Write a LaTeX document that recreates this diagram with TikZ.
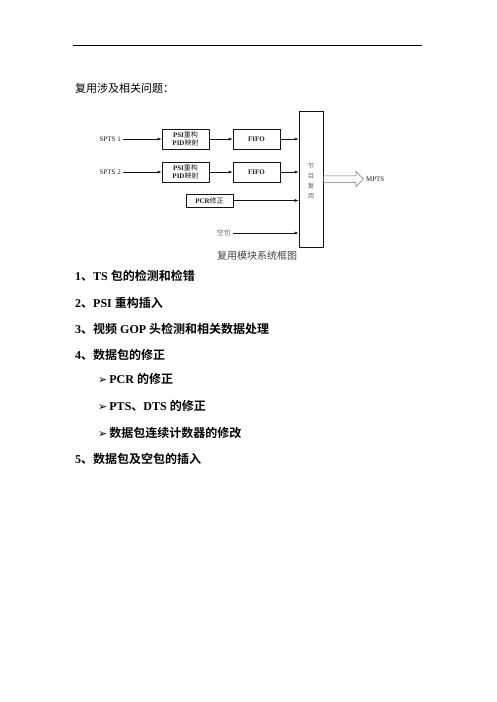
\documentclass[tikz,border=0pt]{standalone}
\usepackage{fontspec}
\setmainfont{Liberation Serif}
\newfontfamily\cjk{Noto Sans CJK SC}[BoldFont={Noto Sans CJK SC Bold}]
\newfontfamily\dingfont{DejaVu Sans}
\newcommand{\zh}[1]{{\cjk #1}}
\usetikzlibrary{positioning,arrows.meta,shapes.arrows}
\definecolor{colorline} {RGB}{20 ,20 ,20 }
\definecolor{colortext} {RGB}{29 ,29 ,27 }
\definecolor{colorgray} {RGB}{110,110,110}

\begin{document}
\begin{tikzpicture}[x=1pt,y=-1pt,
    base/.style={draw=colorline,line width=0.6pt,text=colortext,font={\fontsize{7}{8.5}\selectfont},inner sep=0pt,align=center,rectangle,minimum width=47pt,minimum height=20pt},
    txt/.style={text=colortext,font={\fontsize{7}{8.5}\selectfont},inner sep=2pt},
    link/.style={-{Latex[length=4pt,width=3pt]},line width=0.6pt,draw=colorline},
    fatarrow/.style={single arrow,draw=colorgray,line width=0.5pt,inner sep=3pt,single arrow head extend=4.5pt,minimum height=40pt},
    item/.style={anchor=west,text=black,font={\fontsize{12}{14}\selectfont\bfseries},inner sep=0pt},
]
    \useasboundingbox (0,0) rectangle (496,702);

    \draw[line width=0.8pt] (73,45) -- (422,45);
    \node[anchor=west,inner sep=0pt,font={\fontsize{11}{13}\selectfont}] at (75,88) (title) {\zh{复用涉及相关问题：}};

    \node[base,minimum width=24pt,minimum height=136pt] at (311,179) (mux) {};
    \node[txt,text=colorgray,align=center,font={\fontsize{6.5}{10}\selectfont}] at (311,181) (muxName) {\zh{节}\\\zh{目}\\\zh{复}\\\zh{用}};

    \node[txt,anchor=east] at (123,139) (sptsA) {SPTS 1};
    \node[base] at (185.5,139) (psiA) {\textbf{PSI}\zh{重构}\\\textbf{PID}\zh{映射}};
    \draw[link](sptsA) -- (psiA);
    \node[base] at (256.5,139) (fifoA) {\textbf{FIFO}};
    \draw[link](psiA) -- (fifoA);
    \draw[link](fifoA.east) -- (fifoA.east -| mux.west);

    \node[txt,anchor=east] at (123,172) (sptsB) {SPTS 2};
    \node[base] at (185.5,172) (psiB) {\textbf{PSI}\zh{重构}\\\textbf{PID}\zh{映射}};
    \draw[link](sptsB) -- (psiB);
    \node[base] at (256.5,172) (fifoB) {\textbf{FIFO}};
    \draw[link](psiB) -- (fifoB);
    \draw[link](fifoB.east) -- (fifoB.east -| mux.west);

    \node[base,minimum height=13pt] at (209.5,200.5) (pcr) {\textbf{PCR}\zh{修正}};
    \draw[link](pcr.east) -- (pcr.east -| mux.west);

    \node[txt,anchor=east,text=colorgray] at (233,233) (null) {\zh{空包}};
    \draw[link](null.east) -- (null.east -| mux.west);

    \node[fatarrow,anchor=tail] at (mux.east) (out) {};
    \node[txt,anchor=west] at (out.tip) (mpts) {MPTS};

    \node[text=colorgray!60!black,font={\fontsize{10}{12}\selectfont}] at (257,256) (caption) {\zh{复用模块系统框图}};

    \node[item] at (75,276) (itemA) {1\zh{、}TS \zh{包的检测和检错}};
    \node[item] at (75,303) (itemB) {2\zh{、}PSI \zh{重构插入}};
    \node[item] at (75,329) (itemC) {3\zh{、}\zh{视频} GOP \zh{头检测和相关数据处理}};
    \node[item] at (75,355) (itemD) {4\zh{、}\zh{数据包的修正}};
    \node[item] at (98,379) (subA) {{\dingfont\fontsize{11}{12}\selectfont ➢}\hspace{2pt}PCR \zh{的修正}};
    \node[item] at (98,406) (subB) {{\dingfont\fontsize{11}{12}\selectfont ➢}\hspace{2pt}PTS\zh{、}DTS \zh{的修正}};
    \node[item] at (98,433) (subC) {{\dingfont\fontsize{11}{12}\selectfont ➢}\hspace{2pt}\zh{数据包连续计数器的修改}};
    \node[item] at (75,459) (itemE) {5\zh{、}\zh{数据包及空包的插入}};

\end{tikzpicture}
\end{document}
